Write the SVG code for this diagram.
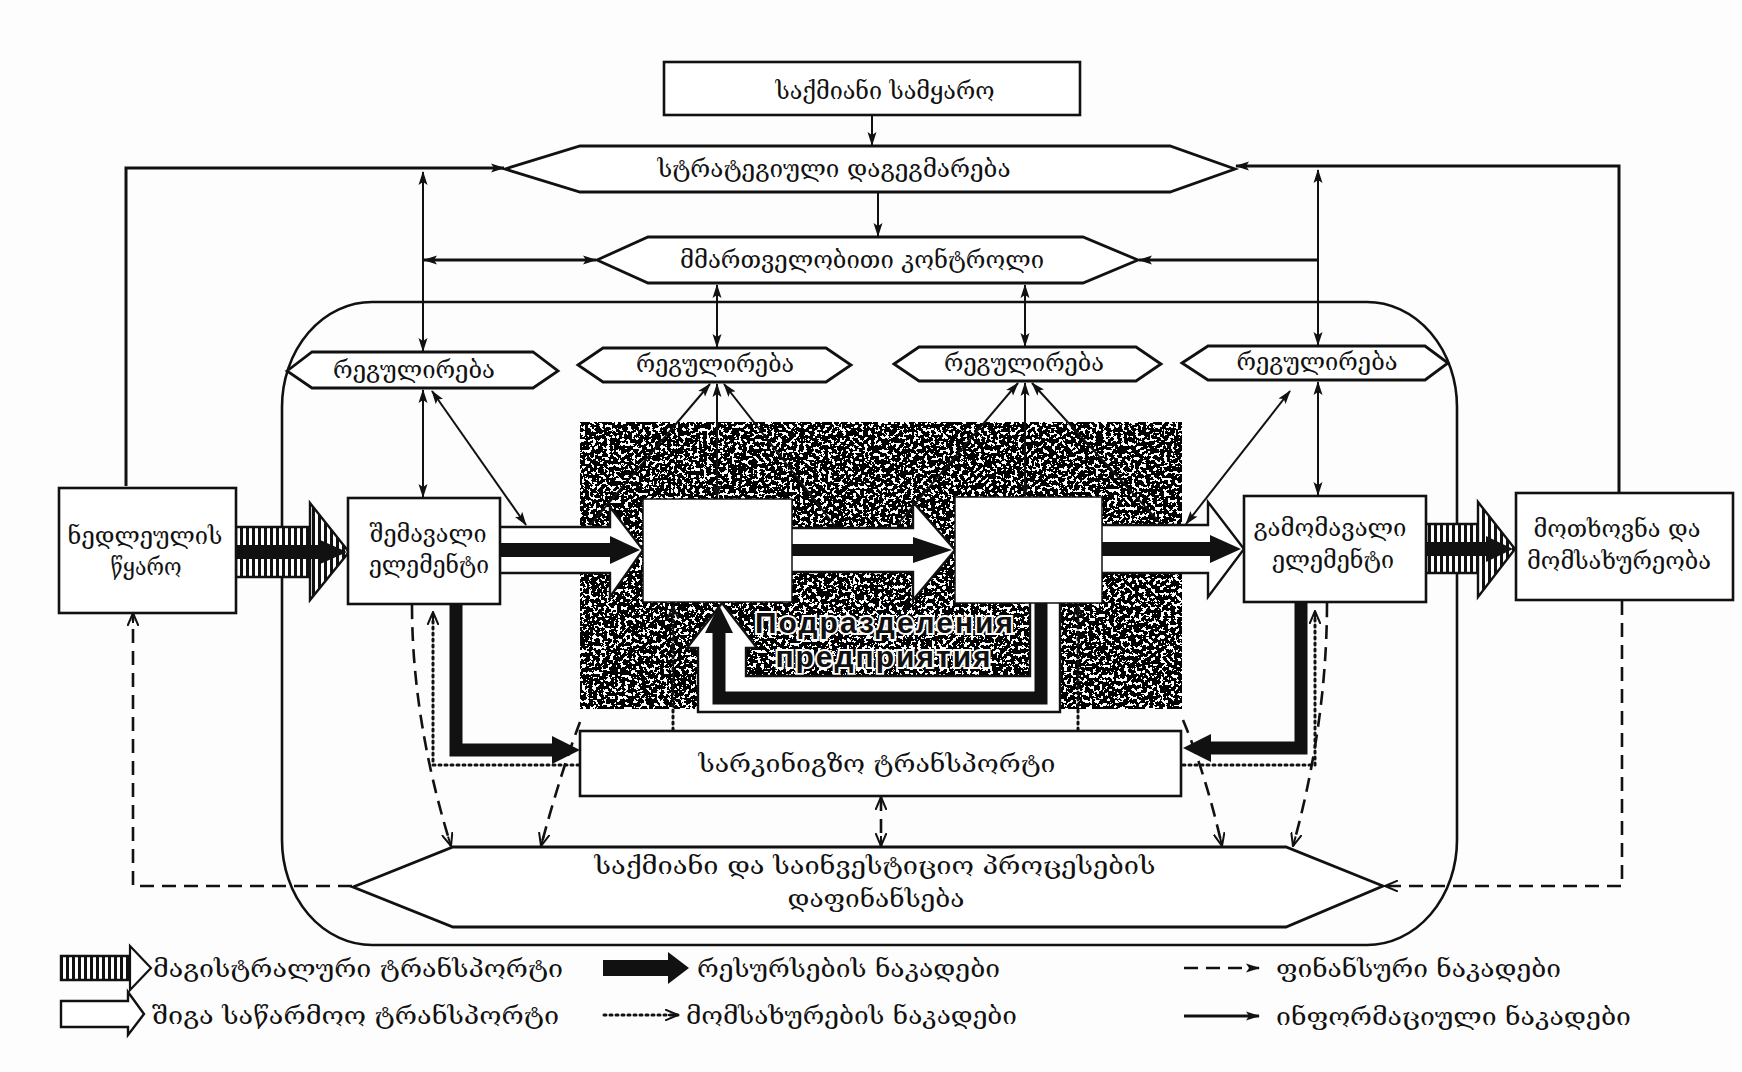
<svg xmlns="http://www.w3.org/2000/svg" width="1742" height="1072" viewBox="0 0 1742 1072">
  <style>
    .box { fill: #ffffff; stroke: #111; stroke-width: 2.6; }
    .hex { fill: #ffffff; stroke: #111; stroke-width: 2.8; stroke-linejoin: miter; }
    .info { fill: none; stroke: #111; stroke-width: 2; }
    .info-bold { fill: none; stroke: #111; stroke-width: 3; }
    .fin { fill: none; stroke: #111; stroke-width: 2.6; stroke-dasharray: 14 8; }
    .svc { fill: none; stroke: #111; stroke-width: 3; stroke-dasharray: 2 4; stroke-linecap: round; }
    .res { fill: none; stroke: #111; stroke-width: 13; stroke-linejoin: miter; }
    .solid { fill: #111; stroke: none; }
    .pipe { fill: #ffffff; stroke: #111; stroke-width: 2.4; stroke-linejoin: miter; }
    .trunk { fill: url(#stripes); stroke: #111; stroke-width: 2.4; }
    .geo { font-family: "DejaVu Serif", "DejaVu Sans", serif; font-size: 24px; fill: #111; }
    .mid { text-anchor: middle; }
    .ru { font-family: "Liberation Sans", Arial, sans-serif; font-size: 30px; font-weight: bold; fill: #111;
          stroke: #ffffff; stroke-width: 4; paint-order: stroke; letter-spacing: 2px; text-anchor: middle; }
  </style>
  <defs>
    <marker id="ah" viewBox="0 0 14 10" refX="13" refY="5" markerWidth="14" markerHeight="10" markerUnits="userSpaceOnUse" orient="auto-start-reverse">
      <path d="M0,0.5 L14,5 L0,9.5 L3,5 Z" fill="#111"/>
    </marker>
    <marker id="ahOpen" viewBox="0 0 14 12" refX="13" refY="6" markerWidth="14" markerHeight="12" markerUnits="userSpaceOnUse" orient="auto-start-reverse">
      <path d="M0,0.5 L13,6 L0,11.5" fill="none" stroke="#111" stroke-width="2"/>
      <path d="M3,6 L13,6" stroke="#111" stroke-width="2"/>
    </marker>
    <pattern id="stripes" width="6" height="10" patternUnits="userSpaceOnUse">
      <rect width="6" height="10" fill="#ffffff"/>
      <rect x="0" y="0" width="3" height="10" fill="#111"/>
    </pattern>
    <!-- speckled halftone for the department area -->
    <filter id="grain" x="0" y="0" width="100%" height="100%" color-interpolation-filters="sRGB">
      <feTurbulence type="fractalNoise" baseFrequency="0.28" numOctaves="3" seed="11" result="noise"/>
      <feColorMatrix in="noise" type="matrix" values="0 0 0 0 0  0 0 0 0 0  0 0 0 0 0  1.8 0 0 0 -0.45" result="mask"/>
      <feComponentTransfer in="mask" result="dots">
        <feFuncA type="discrete" tableValues="0 0 0 1 1 1 1 1 1"/>
      </feComponentTransfer>
      <feComposite in="dots" in2="SourceGraphic" operator="in"/>
    </filter>
  </defs>

  <rect x="0" y="0" width="1742" height="1072" fill="#fdfdfd"/>

  <!-- enterprise boundary -->
  <rect id="enterprise" x="282" y="302" width="1175" height="643" rx="90" ry="105" fill="none" stroke="#111" stroke-width="2.6"/>

  <!-- production departments area -->
  <g id="departments">
    <rect x="580" y="422" width="602" height="287" fill="#111" filter="url(#grain)"/>
    <text class="ru" x="885" y="633">Подразделения</text>
    <text class="ru" x="884" y="667">предприятия</text>
  </g>

  <g id="connectors">
    <!-- information flows -->
    <path class="info" d="M872,115 V145" marker-end="url(#ah)"/>
    <path class="info" d="M878,192 V236" marker-end="url(#ah)"/>
    <path class="info-bold" d="M126,486 V168 H504" marker-end="url(#ah)"/>
    <path class="info-bold" d="M1619,492 V166 H1236" marker-end="url(#ah)"/>
    <path class="info" d="M423,172 V351" marker-start="url(#ah)" marker-end="url(#ah)"/>
    <path class="info" d="M1318,170 V345" marker-start="url(#ah)" marker-end="url(#ah)"/>
    <path class="info-bold" d="M424,260 H596" marker-start="url(#ah)" marker-end="url(#ah)"/>
    <path class="info-bold" d="M1318,260 H1139" marker-end="url(#ah)"/>
    <path class="info" d="M717,285 V347" marker-start="url(#ah)" marker-end="url(#ah)"/>
    <path class="info" d="M1025,285 V346" marker-start="url(#ah)" marker-end="url(#ah)"/>

    <path class="info" d="M423,390 V497" marker-start="url(#ah)" marker-end="url(#ah)"/>
    <path class="info" d="M432,391 L526,525" marker-start="url(#ah)" marker-end="url(#ah)"/>
    <path class="info" d="M710,384 L590,525" marker-start="url(#ah)"/>
    <path class="info" d="M717,384 V498" marker-start="url(#ah)" marker-end="url(#ah)"/>
    <path class="info" d="M724,384 L835,526" marker-start="url(#ah)"/>
    <path class="info" d="M1018,383 L897,525" marker-start="url(#ah)"/>
    <path class="info" d="M1025,383 V496" marker-start="url(#ah)" marker-end="url(#ah)"/>
    <path class="info" d="M1032,383 L1160,523" marker-start="url(#ah)"/>
    <path class="info" d="M1318,382 V495" marker-start="url(#ah)" marker-end="url(#ah)"/>
    <path class="info" d="M1290,391 L1186,524" marker-start="url(#ah)" marker-end="url(#ah)"/>

    <!-- resource flows to and from rail transport -->
    <path class="res" d="M456,604 V750 H554"/>
    <polygon class="solid" points="552,736 580,750 552,764"/>
    <path class="res" d="M1301,602 V748 H1208"/>
    <polygon class="solid" points="1211,734 1183,748 1211,762"/>

    <!-- service flows -->
    <path class="svc" d="M579,765 H433 V612" marker-end="url(#ahOpen)"/>
    <path class="svc" d="M1183,765 H1315 V611" marker-end="url(#ahOpen)"/>
    <path class="svc" d="M673,730 V606" marker-end="url(#ahOpen)"/>
    <path class="svc" d="M1078,730 V606" marker-end="url(#ahOpen)"/>

    <!-- financial flows -->
    <path class="fin" d="M412,605 C412,700 432,785 451,846" marker-end="url(#ahOpen)"/>
    <path class="fin" d="M580,722 Q560,775 541,846" marker-end="url(#ahOpen)"/>
    <path class="fin" d="M1183,720 Q1206,775 1222,846" marker-end="url(#ahOpen)"/>
    <path class="fin" d="M1327,603 C1327,700 1310,785 1293,846" marker-end="url(#ahOpen)"/>
    <path class="fin" d="M881,797 V846" marker-start="url(#ahOpen)" marker-end="url(#ahOpen)"/>
    <path class="fin" d="M352,886 H133 V613" marker-end="url(#ahOpen)"/>
    <path class="fin" d="M1622,601 V886 H1385" marker-end="url(#ahOpen)"/>

    <!-- trunk transport arrows -->
    <path class="trunk" d="M236,527 H310 V577 H236 Z"/>
    <path class="trunk" d="M310,503 L349,552 L310,600 Z"/>
    <path class="solid" d="M236,545 H318 V539 L347,552 L318,565 V559 H236 Z"/>
    <path class="trunk" d="M1426,524 H1478 V573 H1426 Z"/>
    <path class="trunk" d="M1478,502 L1515,549 L1478,597 Z"/>
    <path class="solid" d="M1426,542 H1486 V536 L1513,549 L1486,562 V556 H1426 Z"/>

    <!-- in-plant transport arrows -->
    <path class="pipe" d="M501,527 H610 V507 L643,550 L610,597 V573 H501"/>
    <path class="solid" d="M501,543 H610 V536 L640,550 L610,564 V557 H501 Z"/>
    <path class="pipe" d="M792,528 H913 V502 L955,550 L913,600 V572 H792"/>
    <path class="solid" d="M792,544 H913 V537 L952,550 L913,563 V556 H792 Z"/>
    <path class="pipe" d="M1102,525 H1208 V502 L1244,549 L1208,597 V573 H1102"/>
    <path class="solid" d="M1102,542 H1210 V535 L1241,549 L1210,563 V556 H1102 Z"/>

    <!-- return loop between departments -->
    <path class="pipe" d="M1060,603 V712 H698 V648 H687 L722,603 L757,648 H746 V676 H1030 V603"/>
    <path class="res" d="M1041,603 V698 H719 V630"/>
    <polygon class="solid" points="705,633 719,605 733,633"/>
  </g>

  <!-- management levels -->
  <g id="business-world">
    <rect class="box" x="664" y="62" width="416" height="53"/>
    <text class="geo mid" x="885" y="99" textLength="219" lengthAdjust="spacingAndGlyphs">საქმიანი სამყარო</text>
  </g>
  <g id="strategic-planning">
    <polygon class="hex" points="505,169 580,146 1170,146 1235,169 1170,192 580,192"/>
    <text class="geo mid" x="834" y="177" textLength="353" lengthAdjust="spacingAndGlyphs">სტრატეგიული დაგეგმარება</text>
  </g>
  <g id="management-control">
    <polygon class="hex" points="597,260 648,237 1083,237 1138,260 1083,283 648,283"/>
    <text class="geo mid" x="862" y="268" textLength="364" lengthAdjust="spacingAndGlyphs">მმართველობითი კონტროლი</text>
  </g>

  <g id="regulation-1">
    <polygon class="hex" points="287,371 312,352 533,352 558,371 533,388 312,388"/>
    <text class="geo mid" x="414" y="378" textLength="162" lengthAdjust="spacingAndGlyphs">რეგულირება</text>
  </g>
  <g id="regulation-2">
    <polygon class="hex" points="578,365 603,348 826,348 851,365 826,382 603,382"/>
    <text class="geo mid" x="715" y="372" textLength="158" lengthAdjust="spacingAndGlyphs">რეგულირება</text>
  </g>
  <g id="regulation-3">
    <polygon class="hex" points="894,364 919,347 1136,347 1161,364 1136,381 919,381"/>
    <text class="geo mid" x="1024" y="371" textLength="160" lengthAdjust="spacingAndGlyphs">რეგულირება</text>
  </g>
  <g id="regulation-4">
    <polygon class="hex" points="1182,363 1208,346 1425,346 1448,363 1425,380 1208,380"/>
    <text class="geo mid" x="1317" y="370" textLength="161" lengthAdjust="spacingAndGlyphs">რეგულირება</text>
  </g>

  <!-- material flow elements -->
  <g id="raw-material-source">
    <rect class="box" x="59" y="488" width="177" height="125"/>
    <text class="geo mid" x="145" y="544" textLength="155" lengthAdjust="spacingAndGlyphs">ნედლეულის</text>
    <text class="geo mid" x="146" y="575" textLength="71" lengthAdjust="spacingAndGlyphs">წყარო</text>
  </g>
  <g id="input-element">
    <rect class="box" x="348" y="498" width="152" height="106"/>
    <text class="geo mid" x="428" y="542" textLength="117" lengthAdjust="spacingAndGlyphs">შემავალი</text>
    <text class="geo mid" x="429" y="573" textLength="120" lengthAdjust="spacingAndGlyphs">ელემენტი</text>
  </g>
  <g id="department-1">
    <rect x="643" y="499" width="149" height="103" fill="#ffffff" stroke="#111" stroke-width="1.5"/>
  </g>
  <g id="department-2">
    <rect x="955" y="497" width="147" height="106" fill="#ffffff" stroke="#111" stroke-width="1.5"/>
  </g>
  <g id="output-element">
    <rect class="box" x="1244" y="496" width="182" height="106"/>
    <text class="geo mid" x="1330" y="536" textLength="153" lengthAdjust="spacingAndGlyphs">გამომავალი</text>
    <text class="geo mid" x="1333" y="568" textLength="122" lengthAdjust="spacingAndGlyphs">ელემენტი</text>
  </g>
  <g id="demand-and-service">
    <rect class="box" x="1516" y="493" width="217" height="107"/>
    <text class="geo mid" x="1617" y="537" textLength="167" lengthAdjust="spacingAndGlyphs">მოთხოვნა და</text>
    <text class="geo mid" x="1619" y="569" textLength="184" lengthAdjust="spacingAndGlyphs">მომსახურეობა</text>
  </g>
  <g id="rail-transport">
    <rect class="box" x="580" y="731" width="601" height="65"/>
    <text class="geo mid" x="877" y="772" textLength="357" lengthAdjust="spacingAndGlyphs">სარკინიგზო ტრანსპორტი</text>
  </g>
  <g id="financing">
    <polygon class="hex" points="353,887 453,847 1286,847 1383,886 1286,927 453,927"/>
    <text class="geo mid" x="875" y="874" textLength="561" lengthAdjust="spacingAndGlyphs">საქმიანი და საინვესტიციო პროცესების</text>
    <text class="geo mid" x="876" y="907" textLength="177" lengthAdjust="spacingAndGlyphs">დაფინანსება</text>
  </g>

  <!-- legend -->
  <g id="legend">
    <path class="trunk" d="M61,956 H130 V980 H61 Z"/>
    <path d="M130,946 L151,968 L130,990 Z" fill="#ffffff" stroke="#111" stroke-width="2.2"/>
    <text class="geo" x="153" y="977" textLength="410" lengthAdjust="spacingAndGlyphs">მაგისტრალური ტრანსპორტი</text>

    <path class="pipe" d="M61,1001 H128 V992 L144,1014 L128,1035 V1027 H61 Z"/>
    <text class="geo" x="152" y="1024" textLength="407" lengthAdjust="spacingAndGlyphs">შიგა საწარმოო ტრანსპორტი</text>

    <path class="solid" d="M603,960 H668 V952 L689,968 L668,984 V976 H603 Z"/>
    <text class="geo" x="697" y="977" textLength="303" lengthAdjust="spacingAndGlyphs">რესურსების ნაკადები</text>

    <path class="svc" d="M604,1015 H678" marker-end="url(#ahOpen)"/>
    <text class="geo" x="686" y="1024" textLength="331" lengthAdjust="spacingAndGlyphs">მომსახურების ნაკადები</text>

    <path class="fin" d="M1184,968 H1259" stroke-width="3" marker-end="url(#ah)"/>
    <text class="geo" x="1276" y="977" textLength="285" lengthAdjust="spacingAndGlyphs">ფინანსური ნაკადები</text>

    <path class="info-bold" d="M1184,1016 H1259" marker-end="url(#ah)"/>
    <text class="geo" x="1276" y="1025" textLength="355" lengthAdjust="spacingAndGlyphs">ინფორმაციული ნაკადები</text>
  </g>
</svg>
